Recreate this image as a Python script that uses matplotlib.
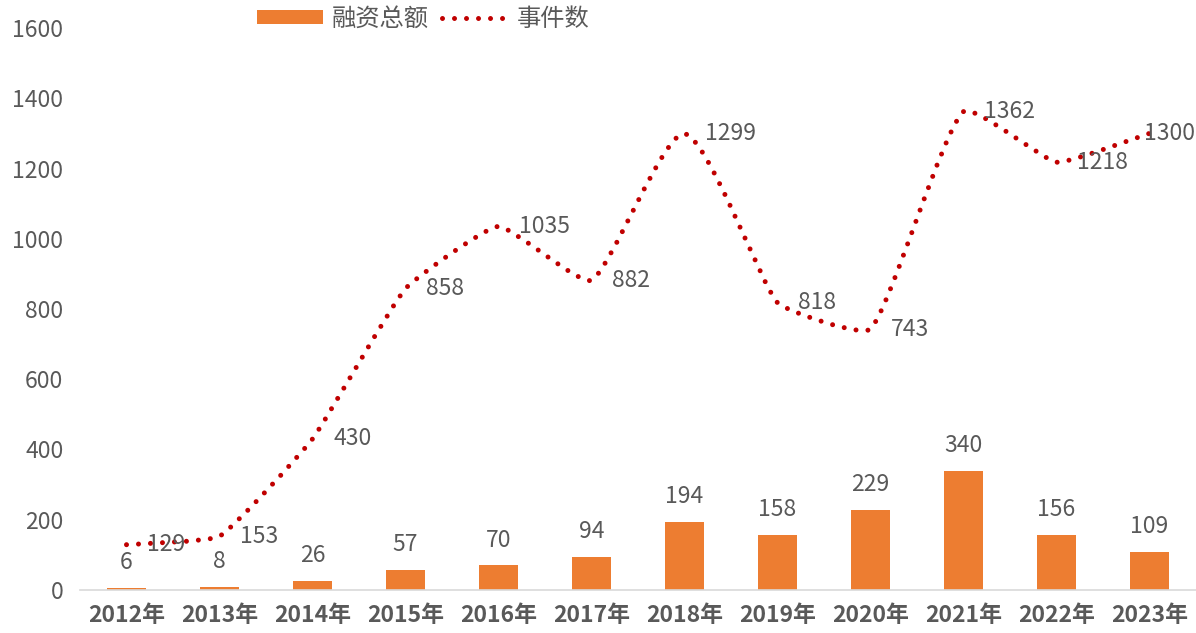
import numpy as np
import matplotlib
matplotlib.use('Agg')
import matplotlib.pyplot as plt
from matplotlib.path import Path
from matplotlib.patches import PathPatch, Patch
from matplotlib.lines import Line2D

plt.rcParams['font.family'] = ['Noto Sans CJK SC', 'DejaVu Sans']

years = ['2012年', '2013年', '2014年', '2015年', '2016年', '2017年',
         '2018年', '2019年', '2020年', '2021年', '2022年', '2023年']
amount = [6, 8, 26, 57, 70, 94, 194, 158, 229, 340, 156, 109]
events = [129, 153, 430, 858, 1035, 882, 1299, 818, 743, 1362, 1218, 1300]

bar_color = '#ED7D31'
line_color = '#C00000'
text_color = '#595959'
dots = (0, (0.001, 2.4))

fig = plt.figure(figsize=(11.96, 6.33), dpi=100)
ax = fig.add_axes([80 / 1196, 1 - 590 / 633, 1 - 80 / 1196, (590 - 28) / 633])
ax.set_xlim(-0.5, len(years) - 0.5)
ax.set_ylim(0, 1600)

x = np.arange(len(years))
ax.bar(x, amount, width=0.41, color=bar_color, zorder=2)

# smoothed line (excel style), control points worked out in pixel space
pts = ax.transData.transform(np.column_stack([x, events]))
smooth = 0.12
verts = [pts[0]]
codes = [Path.MOVETO]
n = len(pts)
for i in range(n - 1):
    p0 = pts[i - 1] if i > 0 else pts[i]
    p1, p2 = pts[i], pts[i + 1]
    p3 = pts[i + 2] if i + 2 < n else pts[i + 1]
    seg = np.hypot(*(p2 - p1))
    t1 = (p2 - p0) / np.hypot(*(p2 - p0))
    t2 = (p3 - p1) / np.hypot(*(p3 - p1))
    verts += [p1 + t1 * seg * smooth, p2 - t2 * seg * smooth, p2]
    codes += [Path.CURVE4] * 3
verts = ax.transData.inverted().transform(np.array(verts))
ax.add_patch(PathPatch(Path(verts, codes), fill=False, edgecolor=line_color,
                       linewidth=3.6, linestyle=dots,
                       capstyle='round', zorder=3))

# labels
for xi, v in zip(x, amount):
    ax.annotate(str(v), (xi, v), xytext=(0, 10), textcoords='offset points',
                ha='center', va='bottom', fontsize=16.5, color=text_color)
for i, (xi, v) in enumerate(zip(x, events)):
    if i < len(events) - 1:
        dx, ha = 15, 'left'
    else:
        dx, ha = 33, 'right'
    ax.annotate(str(v), (xi, v), xytext=(dx, 0), textcoords='offset points',
                ha=ha, va='center', fontsize=16.5, color=text_color,
                annotation_clip=False)

ax.set_yticks(range(0, 1601, 200))
ax.set_xticks(x)
ax.set_xticklabels(years, fontsize=16.5, fontweight='bold', color=text_color)
ax.tick_params(axis='y', length=0, pad=12, labelsize=16.5, labelcolor=text_color)
ax.tick_params(axis='x', length=0, pad=10)
for s in ['top', 'right', 'left']:
    ax.spines[s].set_visible(False)
ax.spines['bottom'].set_color('#D9D9D9')
ax.spines['bottom'].set_linewidth(1.2)

handles = [Patch(facecolor=bar_color, edgecolor='none'),
           Line2D([0], [0], color=line_color, linewidth=3.6,
                  linestyle=dots, dash_capstyle='round')]
fig.legend(handles, ['融资总额', '事件数'], loc='center',
           bbox_to_anchor=(423 / 1196, 1 - 19 / 633), ncol=2, frameon=False,
           fontsize=17.5, labelcolor=text_color, handlelength=2.75,
           handleheight=0.5, columnspacing=0.55, handletextpad=0.33,
           borderpad=0, borderaxespad=0)

fig.savefig('out.png', dpi=100)
